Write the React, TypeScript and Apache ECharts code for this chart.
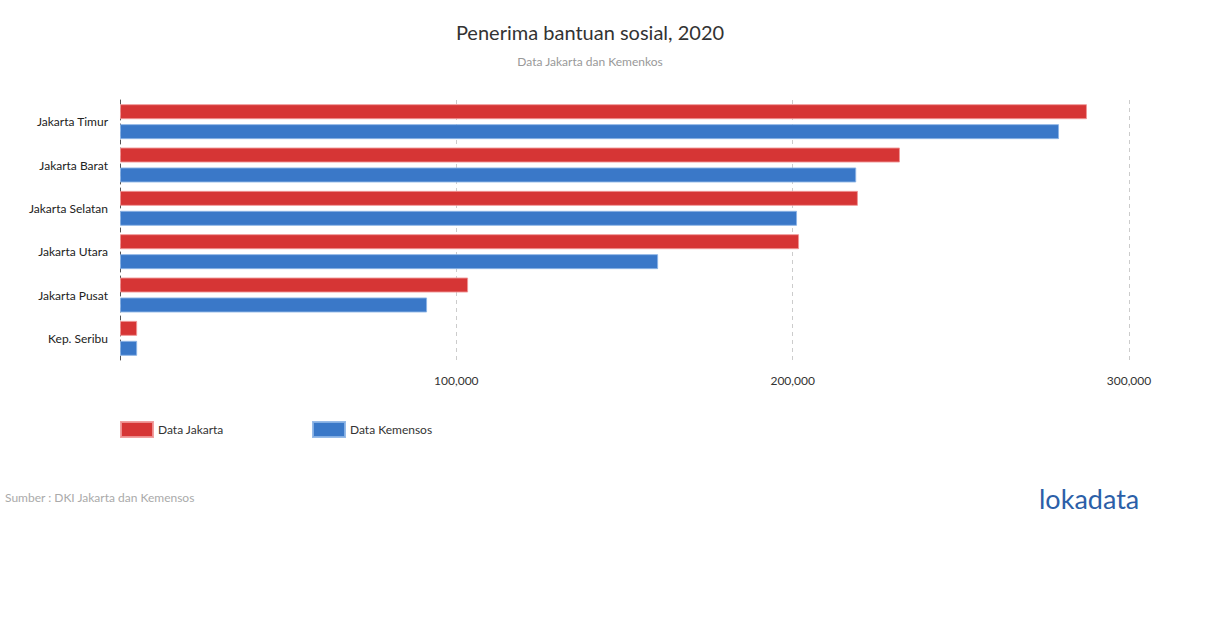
import React, { useEffect, useRef } from "react";
import * as echarts from "echarts";

const categories = ["Jakarta Timur", "Jakarta Barat", "Jakarta Selatan", "Jakarta Utara", "Jakarta Pusat", "Kep. Seribu"];
const dataJakarta = [287500, 231900, 219400, 201900, 103500, 5100];
const dataKemensos = [279200, 218900, 201300, 160000, 91300, 5100];
const xTicks = [0, 100000, 200000, 300000];

const RED = "#d63535";
const BLUE = "#3a78c8";
const FONT = "Lato";

export default function App() {
  const ref = useRef<HTMLDivElement>(null);
  useEffect(() => {
    document.body.style.margin = "0";
    const chart = echarts.init(ref.current!, undefined, { renderer: "svg" });
    chart.setOption({
      animation: false,
      textStyle: { fontFamily: FONT },
      title: [
        {
          text: "Penerima bantuan sosial, 2020",
          left: 585,
          top: 17,
          textAlign: "center",
          textStyle: { fontFamily: FONT, fontSize: 20, fontWeight: "normal", color: "#333" },
        },
        {
          text: "Data Jakarta dan Kemenkos",
          left: 585,
          top: 50,
          textAlign: "center",
          textStyle: { fontFamily: FONT, fontSize: 12, fontWeight: "normal", color: "#999" },
        },
      ],
      legend: [
        {
          data: ["Data Jakarta"],
          left: 115,
          top: 416,
          itemWidth: 32,
          itemHeight: 15,
          itemGap: 5,
          textStyle: { fontFamily: FONT, fontSize: 12, color: "#333" },
          icon: "rect",
        },
        {
          data: ["Data Kemensos"],
          left: 307,
          top: 416,
          itemWidth: 32,
          itemHeight: 15,
          itemGap: 5,
          textStyle: { fontFamily: FONT, fontSize: 12, color: "#333" },
          icon: "rect",
        },
      ],
      grid: { left: 120, right: 81, top: 100, height: 260, containLabel: false },
      xAxis: {
        type: "value",
        min: 0,
        max: 300000,
        interval: 100000,
        axisLine: { show: false },
        axisTick: { show: false },
        splitLine: { show: true, lineStyle: { type: [4, 4], color: "#ccc", width: 1 } },
        axisLabel: {
          margin: 14,
          fontFamily: FONT,
          fontSize: 12,
          color: "#333",
          formatter: (v: number) => (v === xTicks[0] ? "" : v.toLocaleString("en-US")),
        },
      },
      yAxis: {
        type: "category",
        data: categories,
        inverse: true,
        axisLine: { show: true, lineStyle: { type: [4, 4], color: "#555", width: 1 } },
        axisTick: { show: false },
        axisLabel: { margin: 12, fontFamily: FONT, fontSize: 12, color: "#222" },
      },
      series: [
        {
          name: "Data Jakarta",
          type: "bar",
          data: dataJakarta,
          barWidth: 15,
          barGap: "33%",
          itemStyle: { color: RED, borderColor: "rgba(240,150,150,0.9)", borderWidth: 1 },
        },
        {
          name: "Data Kemensos",
          type: "bar",
          data: dataKemensos,
          barWidth: 15,
          barGap: "33%",
          itemStyle: { color: BLUE, borderColor: "rgba(140,180,230,0.9)", borderWidth: 1 },
        },
      ],
      graphic: [
        {
          type: "text",
          left: 5,
          top: 491,
          style: { text: "Sumber : DKI Jakarta dan Kemensos", fontFamily: FONT, fontSize: 12, fill: "#aaa" },
        },
        {
          type: "text",
          left: 1039,
          top: 485,
          style: { text: "lokadata", fontFamily: FONT, fontSize: 27, fill: "#2c5fa8" },
        },
      ],
    });
    return () => chart.dispose();
  }, []);
  return <div ref={ref} style={{ width: 1210, height: 628, position: "absolute", left: 0, top: 0 }} />;
}
